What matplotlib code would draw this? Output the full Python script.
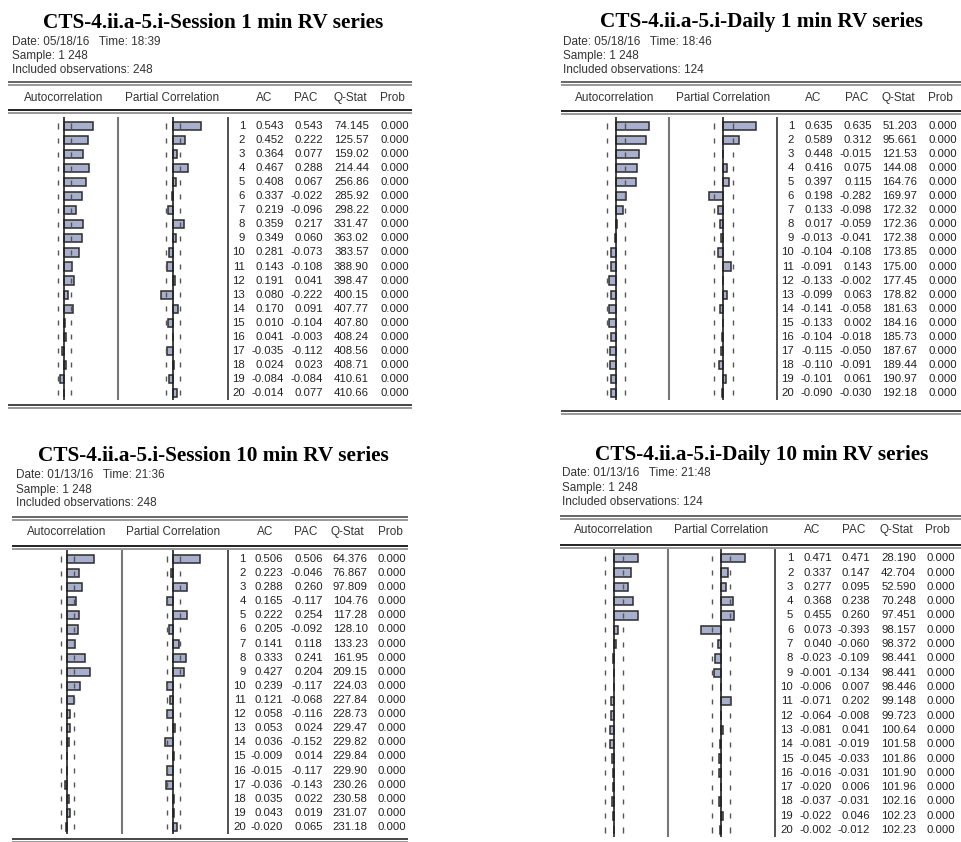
import numpy as np
import matplotlib.pyplot as plt

W, H = 961, 842
lags = np.arange(1, 21)

# ---- data ----
titles = ["CTS-4.ii.a-5.i-Session 1 min RV series",
          "CTS-4.ii.a-5.i-Daily 1 min RV series",
          "CTS-4.ii.a-5.i-Session 10 min RV series",
          "CTS-4.ii.a-5.i-Daily 10 min RV series"]
dates = ["05/18/16", "05/18/16", "01/13/16", "01/13/16"]
times = ["18:39", "18:46", "21:36", "21:48"]
samples = ["1 248", "1 248", "1 248", "1 248"]
nobs = [248, 124, 248, 124]

s1_ac = [0.543, 0.452, 0.364, 0.467, 0.408, 0.337, 0.219, 0.359, 0.349, 0.281,
         0.143, 0.191, 0.080, 0.170, 0.010, 0.041, -0.035, 0.024, -0.084, -0.014]
s1_pac = [0.543, 0.222, 0.077, 0.288, 0.067, -0.022, -0.096, 0.217, 0.060, -0.073,
          -0.108, 0.041, -0.222, 0.091, -0.104, -0.003, -0.112, 0.023, -0.084, 0.077]
s1_q = [74.145, 125.57, 159.02, 214.44, 256.86, 285.92, 298.22, 331.47, 363.02, 383.57,
        388.90, 398.47, 400.15, 407.77, 407.80, 408.24, 408.56, 408.71, 410.61, 410.66]

d1_ac = [0.635, 0.589, 0.448, 0.416, 0.397, 0.198, 0.133, 0.017, -0.013, -0.104,
         -0.091, -0.133, -0.099, -0.141, -0.133, -0.104, -0.115, -0.110, -0.101, -0.090]
d1_pac = [0.635, 0.312, -0.015, 0.075, 0.115, -0.282, -0.098, -0.059, -0.041, -0.108,
          0.143, -0.002, 0.063, -0.058, 0.002, -0.018, -0.050, -0.091, 0.061, -0.030]
d1_q = [51.203, 95.661, 121.53, 144.08, 164.76, 169.97, 172.32, 172.36, 172.38, 173.85,
        175.00, 177.45, 178.82, 181.63, 184.16, 185.73, 187.67, 189.44, 190.97, 192.18]

s10_ac = [0.506, 0.223, 0.288, 0.165, 0.222, 0.205, 0.141, 0.333, 0.427, 0.239,
          0.121, 0.058, 0.053, 0.036, -0.009, -0.015, -0.036, 0.035, 0.043, -0.020]
s10_pac = [0.506, -0.046, 0.260, -0.117, 0.254, -0.092, 0.118, 0.241, 0.204, -0.117,
           -0.068, -0.116, 0.024, -0.152, 0.014, -0.117, -0.143, 0.022, 0.019, 0.065]
s10_q = [64.376, 76.867, 97.809, 104.76, 117.28, 128.10, 133.23, 161.95, 209.15, 224.03,
         227.84, 228.73, 229.47, 229.82, 229.84, 229.90, 230.26, 230.58, 231.07, 231.18]

d10_ac = [0.471, 0.337, 0.277, 0.368, 0.455, 0.073, 0.040, -0.023, -0.001, -0.006,
          -0.071, -0.064, -0.081, -0.081, -0.045, -0.016, -0.020, -0.037, -0.022, -0.002]
d10_pac = [0.471, 0.147, 0.095, 0.238, 0.260, -0.393, -0.060, -0.109, -0.134, 0.007,
           0.202, -0.008, 0.041, -0.019, -0.033, -0.031, 0.006, -0.031, 0.046, -0.012]
d10_q = [28.190, 42.704, 52.590, 70.248, 97.451, 98.157, 98.372, 98.441, 98.441, 98.446,
         99.148, 99.723, 100.64, 101.58, 101.86, 101.90, 101.96, 102.16, 102.23, 102.23]

prob = [0.000] * 20

ac_list = [s1_ac, d1_ac, s10_ac, d10_ac]
pac_list = [s1_pac, d1_pac, s10_pac, d10_pac]
q_list = [s1_q, d1_q, s10_q, d10_q]

headers = ["Autocorrelation", "Partial Correlation", "AC", "PAC", "Q-Stat", "Prob"]

# ---- pixel layout of each table ----
layouts = [
    dict(tx=213, ty=27.5, ix=12, iy=[42, 56, 70], rx=(8, 412), rtop=82, hy=98, rhdr=110,
         rbot=405, row1=126, dy=14.05, ac0=64.3, pac0=173, sc=52, sep=118, vl=228,
         cols=[245, 284, 323, 369, 409], hx=[63.5, 172.5, 264, 306, 350, 392]),
    dict(tx=761, ty=27.5, ix=563, iy=[42, 56, 70], rx=(561, 961), rtop=82, hy=98, rhdr=110.5,
         rbot=411, row1=126, dy=14.05, ac0=616, pac0=723.3, sc=51.5, sep=669, vl=776.7,
         cols=[794, 833, 872, 917, 957], hx=[615, 723, 813, 857, 898, 940]),
    dict(tx=213, ty=460.7, ix=16, iy=[475, 490, 503.3], rx=(12, 408), rtop=517, hy=532, rhdr=546,
         rbot=838.5, row1=559, dy=14.1, ac0=67.3, pac0=173.3, sc=52, sep=121.7, vl=227.7,
         cols=[245.7, 283, 322.7, 367.7, 406], hx=[67, 173.5, 265, 305.7, 347.7, 390.7]),
    dict(tx=761.5, ty=460, ix=562, iy=[473, 487.7, 501.7], rx=(560, 961), rtop=516, hy=530, rhdr=545,
         rbot=None, row1=558.3, dy=14.3, ac0=614.3, pac0=721, sc=51, sep=668.3, vl=775,
         cols=[793.3, 831.7, 870, 916, 955], hx=[613.7, 721, 811.7, 853.3, 896, 937.7]),
]

BAR = "#a9b0cd"
EDGE = "#2b2b2b"
TXT = "#222222"
sans = "Liberation Sans"


def fmt_q(v):
    return "%.3f" % v if v < 100 else "%.2f" % v


fig = plt.figure(figsize=(W / 100, H / 100), dpi=100)
base = fig.add_axes([0, 0, 1, 1])
base.set_xlim(0, W)
base.set_ylim(H, 0)
base.axis("off")


def bar_axes(x0, L, sc):
    # axes in correlation units (-1..1) placed so that 0 sits at pixel x0
    top = L["row1"] - 0.65 * L["dy"]
    bottom = L["row1"] + 19.5 * L["dy"]
    a = fig.add_axes([(x0 - sc) / W, 1 - bottom / H, 2 * sc / W, (bottom - top) / H])
    a.set_xlim(-1, 1)
    a.set_ylim(20.5, 0.35)
    a.patch.set_alpha(0)
    a.axis("off")
    return a


for k in range(4):
    L = layouts[k]
    ac, pac, q = ac_list[k], pac_list[k], q_list[k]

    base.text(L["tx"], L["ty"], titles[k], family="Liberation Serif", weight="bold",
              fontsize=15.3, ha="center", va="baseline", color="black")
    info = ["Date: %s   Time: %s" % (dates[k], times[k]),
            "Sample: %s" % samples[k],
            "Included observations: %d" % nobs[k]]
    for s, y in zip(info, L["iy"]):
        base.text(L["ix"], y, s, family=sans, fontsize=8.5, ha="left", va="center", color="#333333")

    x0, x1 = L["rx"]
    base.hlines([L["rtop"], L["rtop"] + 3], x0, x1, colors=["#666666", "#999999"], lw=1.4)
    base.hlines([L["rhdr"], L["rhdr"] + 3], x0, x1, colors=["#222222", "#999999"], lw=1.4)
    if L["rbot"] is not None:
        base.hlines([L["rbot"], L["rbot"] + 3], x0, x1, colors=["#444444", "#999999"], lw=1.4)

    for hname, hx in zip(headers, L["hx"]):
        base.text(hx, L["hy"], hname, family=sans, fontsize=8.5, ha="center", va="center",
                  color="#333333")

    ytop = L["row1"] - 0.65 * L["dy"]
    ybot = L["row1"] + 19.5 * L["dy"]
    base.vlines(L["sep"], ytop, ybot, colors="#777777", lw=1.5)
    base.vlines(L["vl"], ytop, ybot, colors="#333333", lw=1.2)

    # table values
    for i, lag in enumerate(lags):
        y = L["row1"] + i * L["dy"]
        vals = [str(lag), "%.3f" % ac[i], "%.3f" % pac[i], fmt_q(q[i]), "%.3f" % prob[i]]
        for s, cx in zip(vals, L["cols"]):
            base.text(cx, y, s, family=sans, fontsize=8.2, ha="right", va="center", color=TXT)

    # bar graphics
    bound = 2 / np.sqrt(nobs[k])
    for x_zero, vals in [(L["ac0"], ac), (L["pac0"], pac)]:
        a = bar_axes(x_zero, L, L["sc"])
        a.barh(lags, vals, height=0.58, color=BAR, edgecolor=EDGE, lw=1.1)
        a.axvline(0, color="#222222", lw=1.2)
        a.vlines([-bound] * 20, lags - 0.18, lags + 0.18, colors="#555555", lw=1)
        a.vlines([bound] * 20, lags - 0.18, lags + 0.18, colors="#555555", lw=1)

fig.savefig("out.png", dpi=100)
